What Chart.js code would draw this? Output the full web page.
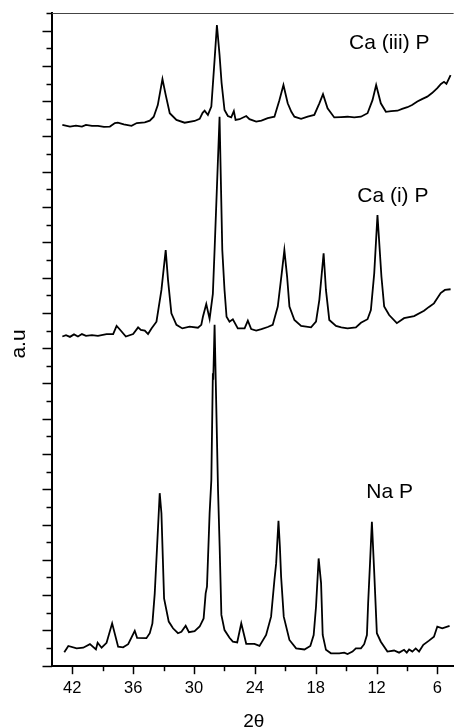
<!DOCTYPE html>
<html>
<head>
<meta charset="utf-8">
<script src="https://cdn.jsdelivr.net/npm/chart.js@4.4.1/dist/chart.umd.min.js"></script>
<style>
  html, body { margin: 0; padding: 0; background: #fff; }
  #wrap { position: relative; width: 455px; height: 727px; }
</style>
</head>
<body>
<div id="wrap"><canvas id="xrd"></canvas></div>
<script>
// ---- Diffractogram data (2θ in degrees, intensity in stacked arbitrary units) ----
const thetaCa3P = [42.98, 42.23, 41.64, 41.05, 40.65, 40.06, 39.47, 38.88, 38.29, 37.80,
  37.51, 36.92, 36.16, 35.64, 34.85, 34.36, 33.97, 33.57, 33.11, 32.79,
  32.39, 31.73, 30.92, 29.94, 29.44, 29.15, 28.95, 28.63, 28.29, 27.97,
  27.74, 27.48, 27.28, 26.99, 26.66, 26.33, 26.07, 25.90, 25.51, 24.85,
  24.53, 23.87, 23.35, 22.73, 22.07, 21.58, 21.18, 20.76, 20.40, 20.10,
  19.44, 18.79, 18.14, 17.64, 17.28, 16.83, 16.17, 15.51, 14.86, 14.20,
  13.54, 12.89, 12.40, 12.04, 11.58, 11.08, 10.56, 9.94, 9.48, 8.96,
  8.50, 7.98, 7.52, 7.00, 6.53, 6.01, 5.65, 5.35, 5.11, 4.70];
const auCa3P = [15.33, 15.28, 15.31, 15.28, 15.33, 15.30, 15.30, 15.27, 15.28, 15.38,
  15.39, 15.34, 15.30, 15.38, 15.40, 15.45, 15.56, 15.89, 16.63, 16.18,
  15.66, 15.47, 15.39, 15.44, 15.50, 15.67, 15.73, 15.61, 15.85, 17.17,
  18.16, 17.31, 16.52, 15.75, 15.58, 15.54, 15.72, 15.47, 15.49, 15.58,
  15.49, 15.42, 15.45, 15.52, 15.56, 16.03, 16.46, 15.94, 15.70, 15.56,
  15.50, 15.56, 15.61, 15.94, 16.20, 15.80, 15.54, 15.55, 15.56, 15.54,
  15.56, 15.66, 16.03, 16.46, 15.94, 15.70, 15.72, 15.73, 15.78, 15.83,
  15.89, 15.99, 16.06, 16.13, 16.23, 16.37, 16.49, 16.55, 16.49, 16.74];

const thetaCa1P = [42.98, 42.62, 42.23, 41.83, 41.44, 41.05, 40.65, 40.06, 39.47, 38.62,
  37.97, 37.63, 37.31, 36.72, 36.00, 35.51, 35.24, 34.85, 34.53, 34.19,
  33.70, 33.21, 32.79, 32.56, 32.23, 31.73, 31.15, 30.43, 29.61, 29.28,
  29.12, 28.79, 28.46, 28.14, 27.97, 27.48, 27.21, 26.99, 26.79, 26.50,
  26.17, 25.68, 25.01, 24.69, 24.36, 23.87, 23.35, 22.73, 22.24, 21.74,
  21.35, 21.09, 20.82, 20.59, 20.10, 19.44, 18.46, 17.97, 17.64, 17.22,
  16.99, 16.66, 16.00, 15.48, 14.86, 14.04, 13.54, 12.89, 12.56, 12.23,
  11.91, 11.52, 11.25, 10.76, 10.00, 9.29, 8.30, 7.32, 6.83, 6.34,
  5.68, 5.26, 4.70];
const auCa1P = [9.33, 9.37, 9.32, 9.39, 9.33, 9.40, 9.35, 9.37, 9.35, 9.40,
  9.40, 9.63, 9.53, 9.33, 9.40, 9.59, 9.52, 9.50, 9.40, 9.56,
  9.75, 10.65, 11.78, 10.93, 9.99, 9.66, 9.56, 9.61, 9.58, 9.66,
  9.89, 10.25, 9.83, 10.54, 11.78, 15.56, 11.78, 10.65, 9.89, 9.75,
  9.82, 9.56, 9.56, 9.78, 9.54, 9.50, 9.54, 9.60, 9.66, 10.18,
  11.12, 11.78, 11.03, 10.18, 9.80, 9.63, 9.59, 9.75, 10.37, 11.69,
  10.65, 9.80, 9.63, 9.59, 9.56, 9.59, 9.72, 9.82, 10.08, 11.12,
  12.77, 11.03, 10.18, 9.94, 9.71, 9.85, 9.91, 10.06, 10.17, 10.27,
  10.56, 10.65, 10.67];

const thetaNaP = [42.79, 42.39, 41.57, 40.92, 40.26, 39.67, 39.50, 39.11, 38.62, 38.07,
  37.48, 36.99, 36.49, 35.84, 35.61, 34.69, 34.36, 34.10, 33.87, 33.64,
  33.38, 33.21, 32.95, 32.49, 32.07, 31.58, 31.24, 30.82, 30.50, 29.94,
  29.44, 29.05, 28.85, 28.72, 28.46, 28.29, 28.14, 28.10, 27.97, 27.63,
  27.47, 27.30, 26.99, 26.50, 26.17, 25.74, 25.34, 24.85, 24.04, 23.54,
  22.89, 22.40, 22.07, 21.90, 21.67, 21.53, 21.41, 21.15, 20.59, 19.93,
  19.11, 18.53, 18.20, 17.97, 17.71, 17.47, 17.31, 16.99, 16.50, 15.68,
  15.19, 14.86, 14.37, 14.04, 13.54, 13.22, 12.95, 12.83, 12.66, 12.46,
  12.24, 11.97, 11.58, 10.93, 10.27, 9.78, 9.29, 9.02, 8.79, 8.47,
  8.14, 7.81, 7.39, 6.83, 6.34, 6.01, 5.52, 4.80];
const auNaP = [0.38, 0.56, 0.49, 0.51, 0.61, 0.46, 0.65, 0.51, 0.65, 1.20,
  0.54, 0.52, 0.61, 0.99, 0.79, 0.78, 0.92, 1.20, 2.05, 3.37,
  4.89, 4.32, 1.91, 1.25, 1.06, 0.92, 0.96, 1.13, 0.95, 0.98,
  1.11, 1.34, 2.05, 2.24, 4.32, 5.26, 8.29, 8.10, 9.66, 4.98,
  3.37, 1.44, 1.01, 0.79, 0.68, 0.66, 1.20, 0.62, 0.62, 0.56,
  0.87, 1.39, 2.43, 2.90, 4.11, 3.36, 2.52, 1.39, 0.73, 0.49,
  0.46, 0.56, 0.87, 1.67, 3.04, 2.34, 0.87, 0.45, 0.35, 0.35,
  0.37, 0.33, 0.40, 0.49, 0.49, 0.61, 0.87, 1.77, 2.81, 4.08,
  2.71, 0.92, 0.68, 0.40, 0.43, 0.37, 0.45, 0.37, 0.46, 0.40,
  0.49, 0.40, 0.59, 0.71, 0.82, 1.11, 1.06, 1.13];

// ---- Axis ticks ----
const xMajorTicks = [42, 36, 30, 24, 18, 12, 6];
const xMinorTicks = [39, 33, 27, 21, 15, 9];
const yMajorTicks = [0, 1, 2, 3, 4, 5, 6, 7, 8, 9, 10, 11, 12, 13, 14, 15, 16, 17, 18];
const yMinorTicks = [0.5, 1.5, 2.5, 3.5, 4.5, 5.5, 6.5, 7.5, 8.5, 9.5, 10.5, 11.5, 12.5,
  13.5, 14.5, 15.5, 16.5, 17.5, 18.5];

const series = [
  { name: 'Ca (iii) P', theta: thetaCa3P, au: auCa3P },
  { name: 'Ca (i) P', theta: thetaCa1P, au: auCa1P },
  { name: 'Na P', theta: thetaNaP, au: auNaP }
];

const FONT = '"Liberation Sans", Arial, Helvetica, sans-serif';

// Tick marks, top frame line, sample names and axis titles
const axisDecor = {
  id: 'axisDecor',
  afterDraw(chart) {
    const { ctx, chartArea: area, scales } = chart;
    const xs = scales.x, ys = scales.y;
    ctx.save();
    ctx.strokeStyle = '#000';
    ctx.lineCap = 'butt';
    const seg = (x1, y1, x2, y2, w) => {
      ctx.lineWidth = w;
      ctx.beginPath(); ctx.moveTo(x1, y1); ctx.lineTo(x2, y2); ctx.stroke();
    };
    xMajorTicks.forEach(v => { const p = Math.round(xs.getPixelForValue(v)) + 0.5; seg(p, area.bottom, p, area.bottom + 8.5, 1.5); });
    xMinorTicks.forEach(v => { const p = Math.round(xs.getPixelForValue(v)) + 0.5; seg(p, area.bottom, p, area.bottom + 5.5, 1.5); });
    yMajorTicks.forEach(v => { const p = Math.round(ys.getPixelForValue(v)) + 0.5; seg(area.left - 9.5, p, area.left, p, 1.5); });
    yMinorTicks.forEach(v => { const p = Math.round(ys.getPixelForValue(v)) + 0.5; seg(area.left - 5.5, p, area.left, p, 1.5); });

    // thin frame line along the top
    ctx.strokeStyle = '#444';
    seg(area.left, area.top + 0.5, area.right, area.top + 0.5, 1);

    // sample names
    ctx.fillStyle = '#000';
    ctx.font = '21px ' + FONT;
    ctx.textAlign = 'left';
    ctx.textBaseline = 'alphabetic';
    const names = [
      { text: 'Ca (iii) P', t: 14.72, v: 17.49 },
      { text: 'Ca (i) P', t: 13.90, v: 13.15 },
      { text: 'Na P', t: 13.01, v: 4.745 }
    ];
    names.forEach(n => ctx.fillText(n.text, xs.getPixelForValue(n.t), ys.getPixelForValue(n.v)));

    // axis titles
    ctx.textAlign = 'center';
    ctx.font = '19px ' + FONT;
    ctx.fillText('2θ', (area.left + area.right) / 2 + 1, 726.5);
    ctx.save();
    ctx.translate(25, 344);
    ctx.rotate(-Math.PI / 2);
    ctx.font = '21px ' + FONT;
    ctx.fillText('a.u', 0, 0);
    ctx.restore();
    ctx.restore();
  }
};

new Chart(document.getElementById('xrd'), {
  type: 'line',
  data: {
    datasets: series.map(s => ({
      label: s.name,
      data: s.theta.map((t, i) => ({ x: t, y: s.au[i] })),
      borderColor: '#000',
      borderWidth: 1.8,
      pointRadius: 0,
      tension: 0,
      fill: false
    }))
  },
  options: {
    responsive: true,
    maintainAspectRatio: false,
    animation: false,
    layout: { padding: { top: 13, right: 0, bottom: 0, left: 0 } },
    plugins: { legend: { display: false }, tooltip: { enabled: false } },
    scales: {
      x: {
        type: 'linear',
        reverse: true,
        min: 4.4,
        max: 44,
        afterBuildTicks: s => { s.ticks = xMajorTicks.map(v => ({ value: v })); },
        afterFit: s => { s.height = 61.3; },
        grid: { display: false, drawTicks: false },
        border: { display: true, color: '#000', width: 2 },
        ticks: {
          padding: 13,
          color: '#000',
          autoSkip: false,
          maxRotation: 0,
          font: { family: FONT, size: 16.5 },
          callback: v => String(v)
        }
      },
      y: {
        type: 'linear',
        min: 0,
        max: 18.5,
        afterBuildTicks: s => { s.ticks = yMajorTicks.map(v => ({ value: v })); },
        afterFit: s => { s.width = 52; },
        grid: { display: false, drawTicks: false },
        border: { display: true, color: '#000', width: 2 },
        ticks: { display: false }
      }
    }
  },
  plugins: [axisDecor]
});
</script>
</body>
</html>
